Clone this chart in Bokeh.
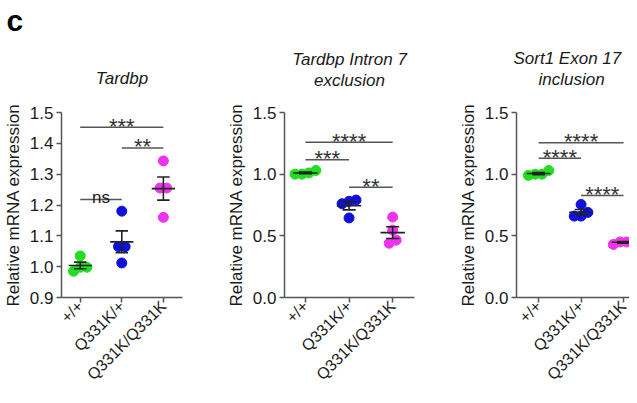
import math
import numpy as np
from bokeh.plotting import figure
from bokeh.layouts import row
from bokeh.models import FixedTicker, Title, ColumnDataSource, PrintfTickFormatter
from bokeh.core.properties import value
from bokeh.embed import file_html
from bokeh.resources import INLINE

# ---------------- data ----------------
genotypes = ["+/+", "Q331K/+", "Q331K/Q331K"]
group_colors = ["#22dd22", "#1010dd", "#ee33ee"]

tardbp_wt = [1.035, 0.998, 0.998, 0.985]
tardbp_het = [1.18, 1.065, 1.065, 1.012]
tardbp_hom = [1.343, 1.255, 1.255, 1.16]

intron7_wt = [1.0, 1.0, 1.01, 1.03]
intron7_het = [0.79, 0.78, 0.76, 0.645]
intron7_hom = [0.652, 0.546, 0.465, 0.44]

exon17_wt = [1.0, 0.99, 1.0, 1.03]
exon17_het = [0.754, 0.69, 0.66, 0.66]
exon17_hom = [0.45, 0.43, 0.46, 0.45]

# significance bars: (group from, group to, bar height, label)
tardbp_sig = [(1, 3, 1.452, "***"), (2, 3, 1.385, "**"), (1, 2, 1.218, "ns")]
intron7_sig = [(1, 3, 1.258, "****"), (1, 2, 1.116, "***"), (2, 3, 0.894, "**")]
exon17_sig = [(1, 3, 1.254, "****"), (1, 2, 1.13, "****"), (2, 3, 0.828, "****")]

tardbp_ticks = [0.9, 1.0, 1.1, 1.2, 1.3, 1.4, 1.5]
splice_ticks = [0.0, 0.5, 1.0, 1.5]

FONT = "Liberation Sans"
AX = "#555555"
TXT = "#1a1a1a"
H = 395
FRAME_BOTTOM = 297


def swarm(vals, tol, step=0.16):
    vals = np.asarray(vals, dtype=float)
    order = np.argsort(vals)
    offs = np.zeros(len(vals))
    clusters, cur = [], [order[0]]
    for i in order[1:]:
        if vals[i] - vals[cur[-1]] <= tol:
            cur.append(i)
        else:
            clusters.append(cur)
            cur = [i]
    clusters.append(cur)
    for c in clusters:
        n = len(c)
        for k, idx in enumerate(c):
            offs[idx] = (k - (n - 1) / 2) * step
    return offs


def spacer(px):
    # invisible (white) tiny title used only to push the real titles upward
    return Title(text=".", text_font_size="2px", text_color="white", standoff=px)


def ttl(text, align="center", offset=0, standoff=0):
    return Title(text=text, text_font=FONT, text_font_size="17px",
                 text_font_style="italic", text_color=TXT, align=align,
                 offset=offset, standoff=standoff)


def panel(groups, sig, y_range, ticks, x_range, width, bl, br, bt, tol):
    p = figure(width=width, height=H, x_range=x_range, y_range=y_range,
               output_backend="svg", toolbar_location=None,
               min_border_left=bl, min_border_right=br, min_border_top=bt,
               min_border_bottom=H - FRAME_BOTTOM)
    p.outline_line_color = None
    p.xgrid.visible = False
    p.ygrid.visible = False
    p.background_fill_color = "white"
    p.border_fill_color = "white"

    # points, mean and SEM
    for gi, vals in enumerate(groups):
        xc = gi + 1
        offs = swarm(vals, tol)
        src = ColumnDataSource(dict(x=xc + offs, y=vals))
        p.scatter("x", "y", source=src, size=10, color=group_colors[gi],
                  line_color=group_colors[gi])
        arr = np.asarray(vals, dtype=float)
        m = arr.mean()
        sem = arr.std(ddof=1) / math.sqrt(len(arr))
        p.segment(x0=[xc - 0.28], x1=[xc + 0.28], y0=[m], y1=[m],
                  line_color="#222222", line_width=1.6)
        p.segment(x0=[xc, xc - 0.15, xc - 0.15], x1=[xc, xc + 0.15, xc + 0.15],
                  y0=[m - sem, m - sem, m + sem], y1=[m + sem, m - sem, m + sem],
                  line_color="#222222", line_width=1.6)

    # significance bars
    for a, b, yv, lab in sig:
        p.segment(x0=[a], x1=[b], y0=[yv], y1=[yv], line_color="#555555",
                  line_width=1.5)
        if lab == "ns":
            p.text(x=[(a + b) / 2], y=[yv], text=[lab], text_font=value(FONT),
                   text_font_size="17px", text_align="center",
                   text_baseline="alphabetic", y_offset=-2, text_color=TXT)
        else:
            p.text(x=[(a + b) / 2], y=[yv], text=[lab], text_font=value(FONT),
                   text_font_size="22px", text_align="center",
                   text_baseline="alphabetic", y_offset=-1, text_color="#333333")

    p.xaxis.ticker = FixedTicker(ticks=[1, 2, 3])
    p.xaxis.major_label_overrides = {1: genotypes[0], 2: genotypes[1], 3: genotypes[2]}
    p.xaxis.major_label_orientation = math.pi / 4
    p.yaxis.ticker = FixedTicker(ticks=ticks)
    p.yaxis.formatter = PrintfTickFormatter(format="%.1f")
    p.yaxis.axis_label = "Relative mRNA expression"
    for ax in (p.xaxis, p.yaxis):
        ax.axis_line_color = AX
        ax.axis_line_width = 1.5
        ax.major_tick_line_color = AX
        ax.major_tick_line_width = 1.5
        ax.major_tick_in = 0
        ax.major_tick_out = 5
        ax.minor_tick_line_color = None
        ax.major_label_text_font = FONT
        ax.major_label_text_color = TXT
        ax.axis_label_text_font = FONT
        ax.axis_label_text_font_size = "17px"
        ax.axis_label_text_font_style = "normal"
        ax.axis_label_text_color = TXT
    p.yaxis.major_label_text_font_size = "17px"
    p.yaxis.major_label_standoff = 3
    p.yaxis.axis_label_standoff = 4
    p.xaxis.major_label_text_font_size = "16px"
    p.xaxis.major_label_standoff = 1
    return p


# panel 1: Tardbp
p1 = panel([tardbp_wt, tardbp_het, tardbp_hom], tardbp_sig,
           (0.9, 1.5), tardbp_ticks, (0.55, 3.46), 197, 50, 15, 106, 0.025)
p1.add_layout(ttl("Tardbp", standoff=50), "above")
p1.add_layout(Title(text="c", text_font=FONT, text_font_size="30px",
                    text_font_style="bold", text_color="#000000", align="left",
                    vertical_align="top", offset=-55, standoff=6), "above")

# panel 2: Tardbp intron 7 exclusion
p2 = panel([intron7_wt, intron7_het, intron7_hom], intron7_sig,
           (0.0, 1.5), splice_ticks, (0.52, 3.5), 225, 87, 8, 111, 0.06)
p2.add_layout(spacer(20), "above")
p2.add_layout(ttl("exclusion"), "above")
p2.add_layout(ttl("Tardbp Intron 7"), "above")

# panel 3: Sort1 exon 17 inclusion
p3 = panel([exon17_wt, exon17_het, exon17_hom], exon17_sig,
           (0.0, 1.5), splice_ticks, (0.48, 3.14), 207, 94, 0, 112, 0.06)
p3.add_layout(spacer(21), "above")
p3.add_layout(ttl("inclusion", align="left", offset=22), "above")
p3.add_layout(ttl("Sort1 Exon 17", align="left", offset=-3), "above")

layout = row(p1, p2, p3)
open("out.html", "w").write(file_html(layout, INLINE))
